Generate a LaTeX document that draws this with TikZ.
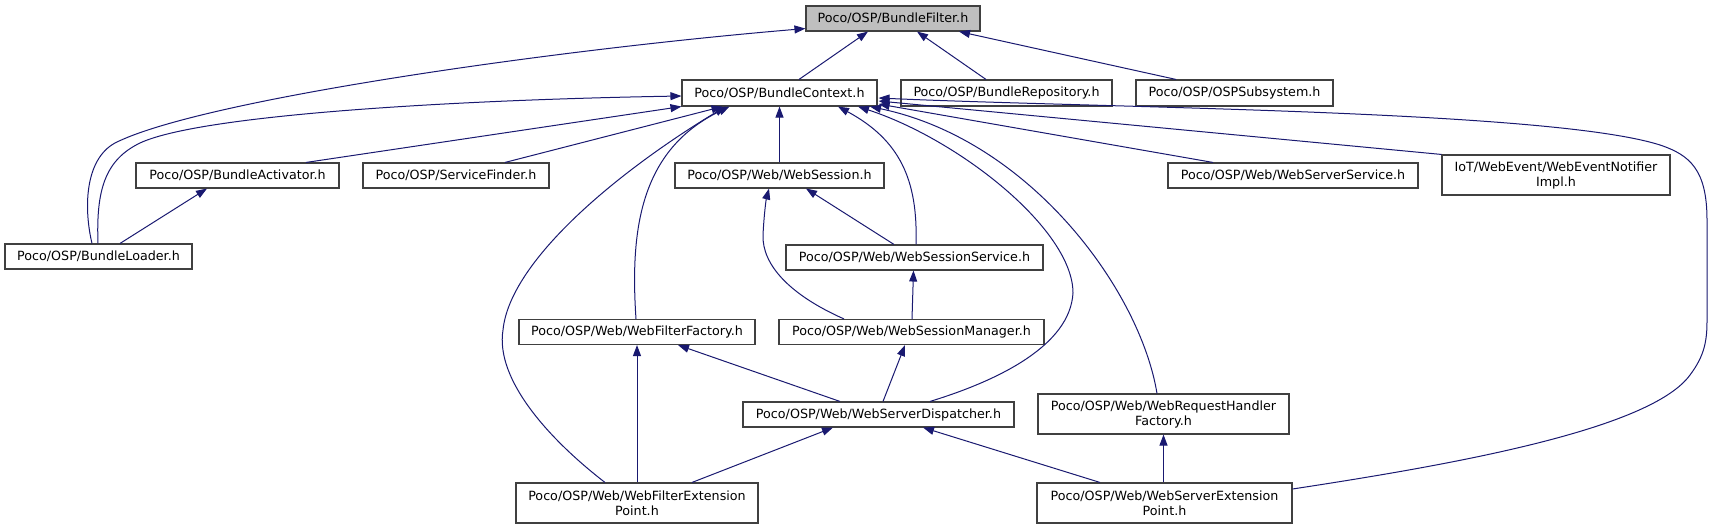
\documentclass[tikz,border=0pt]{standalone}
\usepackage{fontspec}
\setmainfont{DejaVu Sans}
\usetikzlibrary{arrows.meta,calc}
\definecolor{edgeblue}{HTML}{191970}
\definecolor{boxline}{HTML}{404040}
\definecolor{boxgray}{HTML}{BFBFBF}
\tikzset{
  hdr/.style={draw=boxline, line width=1.1pt, fill=white, minimum height=25pt,
    inner sep=0pt, align=center, font=\fontsize{12.7}{15}\selectfont},
  hdrtwo/.style={hdr, minimum height=40pt},
  dep/.style={draw=edgeblue, line width=1pt,
    -{Triangle[length=11pt,width=8pt,fill=edgeblue]}}
}
\begin{document}
\begin{tikzpicture}[x=1pt,y=-1pt]
\useasboundingbox (0,0) rectangle (1716,529);
% nodes
\node[hdr, fill=boxgray, minimum width=174pt] (bf) at (893,18.5) {Poco/OSP/BundleFilter.h};
\node[hdr, minimum width=195pt, minimum height=26pt] (bc) at (779.5,93) {Poco/OSP/BundleContext.h};
\node[hdr, minimum width=211pt, minimum height=26pt] (br) at (1006.5,93) {Poco/OSP/BundleRepository.h};
\node[hdr, minimum width=197pt, minimum height=26pt] (osp) at (1234.5,93) {Poco/OSP/OSPSubsystem.h};
\node[hdr, minimum width=203pt] (ba) at (237.5,175.5) {Poco/OSP/BundleActivator.h};
\node[hdr, minimum width=186pt] (sf) at (456,175.5) {Poco/OSP/ServiceFinder.h};
\node[hdr, minimum width=209pt] (ws) at (779.5,175.5) {Poco/OSP/Web/WebSession.h};
\node[hdr, minimum width=250pt] (wss) at (1293,175.5) {Poco/OSP/Web/WebServerService.h};
\node[hdrtwo, minimum width=228pt] (we) at (1556,175) {IoT/WebEvent/WebEventNotifier\\Impl.h};
\node[hdr, minimum width=187pt] (bl) at (98.5,256.5) {Poco/OSP/BundleLoader.h};
\node[hdr, minimum width=257pt] (wsss) at (914.5,257.5) {Poco/OSP/Web/WebSessionService.h};
\node[hdr, minimum width=236pt] (wff) at (637,332) {Poco/OSP/Web/WebFilterFactory.h};
\node[hdr, minimum width=265pt] (wsm) at (911.5,332) {Poco/OSP/Web/WebSessionManager.h};
\node[hdr, minimum width=271pt] (wsd) at (878.5,414.5) {Poco/OSP/Web/WebServerDispatcher.h};
\node[hdrtwo, minimum width=251pt] (wrhf) at (1163.5,414) {Poco/OSP/Web/WebRequestHandler\\Factory.h};
\node[hdrtwo, minimum width=242pt] (wfep) at (637,503) {Poco/OSP/Web/WebFilterExtension\\Point.h};
\node[hdrtwo, minimum width=255pt] (wsep) at (1164.5,503) {Poco/OSP/Web/WebServerExtension\\Point.h};
% edges to BundleFilter
\draw[dep] ($(bc.north)+(19.5,0)$) -- ($(bf.south)+(-25,0)$);
\draw[dep] ($(br.north)+(-20.5,0)$) -- ($(bf.south)+(24,0)$);
\draw[dep] ($(osp.north)+(-58.5,0)$) -- ($(bf.south)+(66,0)$);
\draw[dep] ($(bl.north)+(-6.5,0)$) .. controls (84,210) and (84,160) .. (115,143)
  .. controls (200,100) and (550,50) .. ($(bf.south west)+(0,-3)$);
% edges to BundleContext
\draw[dep] ($(bl.north)+(-0.5,0)$) .. controls (96,190) and (105,160) .. (140,143)
  .. controls (200,115) and (450,100) .. ($(bc.west)+(0,3)$);
\draw[dep] ($(ba.north)+(68.5,0)$) -- (bc.south west);
\draw[dep] ($(sf.north)+(49,0)$) -- ($(bc.south)+(-57,0)$);
\draw[dep] (ws.north) -- (bc.south);
\draw[dep] ($(wsss.north)+(1.5,0)$) .. controls (918,180) and (900,140) .. ($(bc.south)+(58.5,0)$);
\draw[dep] ($(wff.north)+(-1,0)$) .. controls (630,230) and (640,150) .. ($(bc.south)+(-50,0)$);
\draw[dep] ($(wfep.north)+(-32,0)$) .. controls (550,440) and (495,380) .. (503,330)
  .. controls (510,260) and (620,170) .. ($(bc.south)+(-54,0)$);
\draw[dep] ($(wsd.north)+(51.5,0)$) .. controls (1000,380) and (1070,345) .. (1073,293)
  .. controls (1073,230) and (960,140) .. ($(bc.south)+(78.5,0)$);
\draw[dep] ($(wrhf.north)+(-6.5,0)$) .. controls (1140,290) and (1030,140) .. ($(bc.south)+(90.5,0)$);
\draw[dep] ($(wss.north)+(-80,0)$) -- ($(bc.east)+(1,11)$);
\draw[dep] (we.north west) -- ($(bc.east)+(1,8)$);
\draw[dep] ($(wsep.east)+(0,-14)$) .. controls (1450,465) and (1650,430) .. (1690,375)
  .. controls (1705,355) and (1707,340) .. (1707,320) -- (1707,220)
  .. controls (1707,170) and (1690,155) .. (1660,145)
  .. controls (1550,110) and (1100,108) .. ($(bc.east)+(1,5)$);
% other edges
\draw[dep] ($(bl.north)+(21.5,0)$) -- ($(ba.south)+(-30.5,0)$);
\draw[dep] ($(wsss.north)+(-20.5,0)$) -- ($(ws.south)+(26.5,0)$);
\draw[dep] ($(wsm.north)+(-67.5,0)$) .. controls (790,295) and (762,265) .. (763,235)
  .. controls (764,215) and (766,200) .. ($(ws.south)+(-10.5,0)$);
\draw[dep] ($(wsm.north)+(0.5,0)$) -- ($(wsss.south)+(-1,0)$);
\draw[dep] ($(wsd.north)+(-38.5,0)$) -- ($(wff.south)+(41,0)$);
\draw[dep] ($(wsd.north)+(4.5,0)$) -- ($(wsm.south)+(-6.5,0)$);
\draw[dep] (wfep.north) -- (wff.south);
\draw[dep] ($(wfep.north)+(55,0)$) -- ($(wsd.south)+(-45.5,0)$);
\draw[dep] ($(wsep.north)+(-64.5,0)$) -- ($(wsd.south)+(44.5,0)$);
\draw[dep] ($(wsep.north)+(-1,0)$) -- (wrhf.south);
\end{tikzpicture}
\end{document}
